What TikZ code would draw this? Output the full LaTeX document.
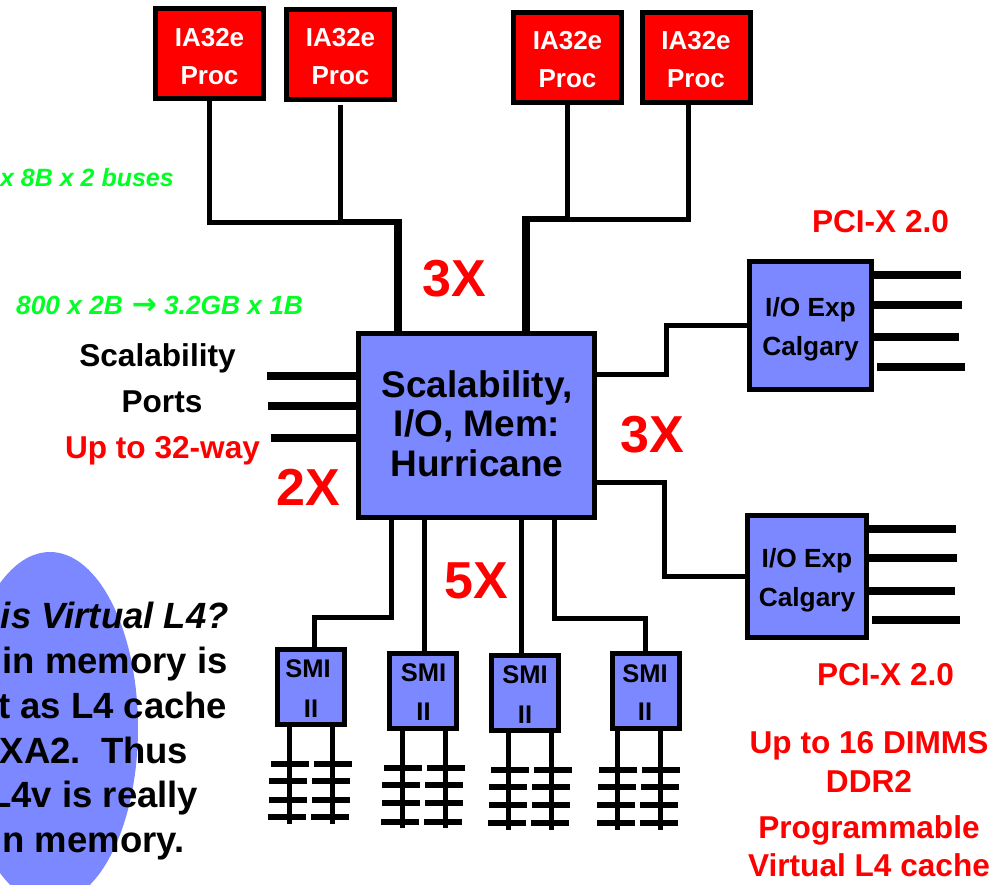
\documentclass[tikz,border=0pt]{standalone}
\usepackage{fontspec}
\setmainfont{Liberation Sans}
\newfontfamily\arrowfont{DejaVu Sans}
\definecolor{boxblue}{HTML}{7B88FF}
\definecolor{sigred}{HTML}{FF0000}
\definecolor{siggreen}{HTML}{00FF22}
\newcommand{\fs}[2]{\fontsize{#1}{#2}\selectfont}
\tikzset{
  boxbase/.style={draw=black,line width=5pt,inner sep=0pt},
  procbox/.style={boxbase,fill=sigred,minimum width=108pt,minimum height=90pt},
  iobox/.style={boxbase,fill=boxblue},
  smibox/.style={boxbase,fill=boxblue,minimum width=67pt,minimum height=75pt},
  hubbox/.style={boxbase,fill=boxblue,minimum width=236pt,minimum height=184pt},
  proctxt/.style={anchor=base,inner sep=0pt,text=white,font=\bfseries\fs{26}{30}},
  iotxt/.style={anchor=base,inner sep=0pt,text=black,font=\bfseries\fs{26.3}{30}},
  smitxt/.style={anchor=base,inner sep=0pt,text=black,font=\bfseries\fs{25.5}{30}},
  hubtxt/.style={anchor=base,inner sep=0pt,text=black,font=\bfseries\fs{37}{40}},
  wire/.style={line width=5pt,line cap=butt,line join=miter},
  thickwire/.style={line width=8pt,line cap=butt,line join=miter},
  lead/.style={line width=8pt,line cap=butt},
  tick/.style={line width=5.5pt,line cap=butt},
  lbl/.style={anchor=base,inner sep=0pt,font=\bfseries\fs{31.6}{36}},
  redlbl/.style={lbl,text=sigred},
  blacklbl/.style={lbl,text=black},
  biglbl/.style={anchor=base,inner sep=0pt,text=sigred,font=\bfseries\fs{52}{56}},
  greenlbl/.style={inner sep=0pt,text=siggreen,font=\bfseries\itshape\fs{25}{28}},
  notelbl/.style={anchor=base east,inner sep=0pt,text=black,font=\bfseries\fs{36.5}{40}},
}
\begin{document}
\begin{tikzpicture}[x=1pt,y=-1pt]
\useasboundingbox (0,0) rectangle (1001,884);
\clip (0,0) rectangle (1001,884);
\fill[white] (0,0) rectangle (1001,884);
% note ellipse
\fill[boxblue] (50,728) ellipse [x radius=88,y radius=176];
\node[notelbl,font=\bfseries\itshape\fs{36.5}{40}] (n1) at (229,628) {is Virtual L4?};
\node[notelbl] (n2) at (228,673) {in memory is};
\node[notelbl] (n3) at (227.5,718) {t as L4 cache};
\node[notelbl] (n4) at (188.5,763) {XA2.\ \ Thus};
\node[notelbl] (n5) at (198.5,807) {L4v is really};
\node[notelbl] (n6) at (184.5,852) {n memory.};
% boxes
\node[procbox] (p1) at (209.5,53.5) {};
\node[procbox] (p2) at (340.5,54) {};
\node[procbox] (p3) at (567.5,57) {};
\node[procbox] (p4) at (696,57) {};
\node[hubbox] (hub) at (476.5,425.5) {};
\node[iobox,minimum width=122pt,minimum height=128pt] (io1) at (810.5,325.5) {};
\node[iobox,minimum width=119pt,minimum height=122pt] (io2) at (807,576.5) {};
\node[smibox] (s1) at (311,687) {};
\node[smibox] (s2) at (423,690.5) {};
\node[smibox] (s3) at (525,693) {};
\node[smibox] (s4) at (645.5,691) {};
% box texts
\foreach \nm/\cx/\yy in {p1/209.5/46,p2/340.5/46,p3/567.5/49,p4/696/49}{
  \node[proctxt] (\nm a) at (\cx,\yy) {IA32e};
  \node[proctxt] (\nm b) at (\cx,\yy+38) {Proc};
}
\node[hubtxt] (h1) at (477,397) {Scalability,};
\node[hubtxt] (h2) at (477,436) {I/O, Mem:};
\node[hubtxt] (h3) at (477,476) {Hurricane};
\node[iotxt] (i1a) at (810.5,316) {I/O Exp};
\node[iotxt] (i1b) at (810.5,355) {Calgary};
\node[iotxt] (i2a) at (807,567) {I/O Exp};
\node[iotxt] (i2b) at (807,606) {Calgary};
\foreach \nm/\cx/\ix/\ya/\yb in {s1/308/311/677/717,s2/423.5/423.5/681/720,s3/525/525/683/723,s4/645/645/682/720}{
  \node[smitxt] (\nm a) at (\cx,\ya) {SMI};
  \node[smitxt] (\nm b) at (\ix,\yb) {II};
}
% processor buses
\coordinate (jl) at (398,222);
\coordinate (jr) at (526,219);
\coordinate (p4out) at (688,104);
\draw[wire] (p1.south) |- (p2.south |- jl);
\draw[wire,shorten <=3pt] (p2.south) -- (p2.south |- jl);
\draw[line width=6.5pt] (p2.south |- jl) -- (jl);
\draw[thickwire] (jl) ++(0,-3.2) -- (hub.north -| jl);
\draw[wire] (p4out) |- (p3.south |- jr);
\draw[wire] (p3.south) -- (p3.south |- jr);
\draw[line width=6.5pt] (p3.south |- jr) -- (jr);
\draw[thickwire] (jr) ++(0,-3.2) -- (hub.north -| jr);
% i/o connectors
\coordinate (a1) at (666,374);
\coordinate (a2) at (664,482);
\draw[wire] (hub.east |- a1) -| (a1) |- (io1.west);
\draw[wire] (hub.east |- a2) -| (a2) |- (io2.west);
% memory connectors
\coordinate (m1) at (391,617);
\coordinate (m4) at (554,618);
\draw[wire] (hub.south -| m1) -- (m1) -| (314.5,647);
\draw[wire] (hub.south -| s2.north) ++(1,0) -- ([xshift=1pt]s2.north);
\draw[wire] (hub.south -| s3.north) ++(-4,0) -- ([xshift=-4pt]s3.north);
\draw[wire] (hub.south -| m4) -- (m4) -| (s4.north);
% scalability leads
\draw[lead] (hub.west |- 0,376) -- (267,376);
\draw[lead] (hub.west |- 0,406) -- (268,406);
\draw[lead] (hub.west |- 0,438) -- (271,438);
% i/o leads
\draw[lead] (io1.east |- 0,275) -- (961,275);
\draw[lead] (io1.east |- 0,305) -- (961.5,305);
\draw[lead] (io1.east |- 0,337) -- (959,337);
\draw[lead] (877,367) -- (965,367);
\draw[lead] (io2.east |- 0,529) -- (956,529);
\draw[lead] (io2.east |- 0,558) -- (957,558);
\draw[lead] (io2.east |- 0,591) -- (954.5,591);
\draw[lead] (872,620) -- (960,620);
% memory buses and DIMM ticks
\foreach \sx/\a/\b/\e/\ya/\yb/\yc/\yd/\xa/\xb/\xc/\xd in {
  s1/289/332/824/764/781/800/817/271/269/269/268,
  s2/402/445/828/768/785/803/822/384/382/382/381,
  s3/508/551/830/770/787/805/823/491/489/489/488,
  s4/617/660/830/770/787/805/823/599/598/597/597}{
  \draw[wire] (\sx.south -| \a,0) -- (\a,\e);
  \draw[wire] (\sx.south -| \b,0) -- (\b,\e);
  \foreach \ty/\tx in {\ya/\xa,\yb/\xb,\yc/\xc,\yd/\xd}{
    \draw[tick] (\tx,\ty) -- ++(37.5,0);
    \draw[tick] (\tx+43,\ty) -- ++(37.5,0);
  }
}
% labels
\node[biglbl] (x1) at (454.5,296.5) {3X};
\node[biglbl] (x2) at (652.5,452.5) {3X};
\node[biglbl] (x3) at (308,505.5) {2X};
\node[biglbl] (x4) at (476.5,598.5) {5X};
\node[blacklbl] (t1) at (157.5,366) {Scalability};
\node[blacklbl] (t2) at (162,412) {Ports};
\node[redlbl] (t3) at (162.5,458) {Up to 32-way};
\node[redlbl] (t4) at (880.5,232) {PCI-X 2.0};
\node[redlbl] (t5) at (885.5,685) {PCI-X 2.0};
\node[redlbl] (t6) at (869,753) {Up to 16 DIMMS};
\node[redlbl] (t7) at (869,792) {DDR2};
\node[redlbl] (t8) at (869,838) {Programmable};
\node[redlbl] (t9) at (869,876) {Virtual L4 cache};
\node[greenlbl,anchor=base east] (g1) at (174,186) {x 8B x 2 buses};
\node[greenlbl,anchor=base west,font=\bfseries\itshape\fs{26.3}{28}] (g2) at (16,314) {800 x 2B\hspace{9pt}{\arrowfont\bfseries\upshape\fs{30}{28}→}\hspace{7pt}3.2GB x 1B};
\end{tikzpicture}
\end{document}
